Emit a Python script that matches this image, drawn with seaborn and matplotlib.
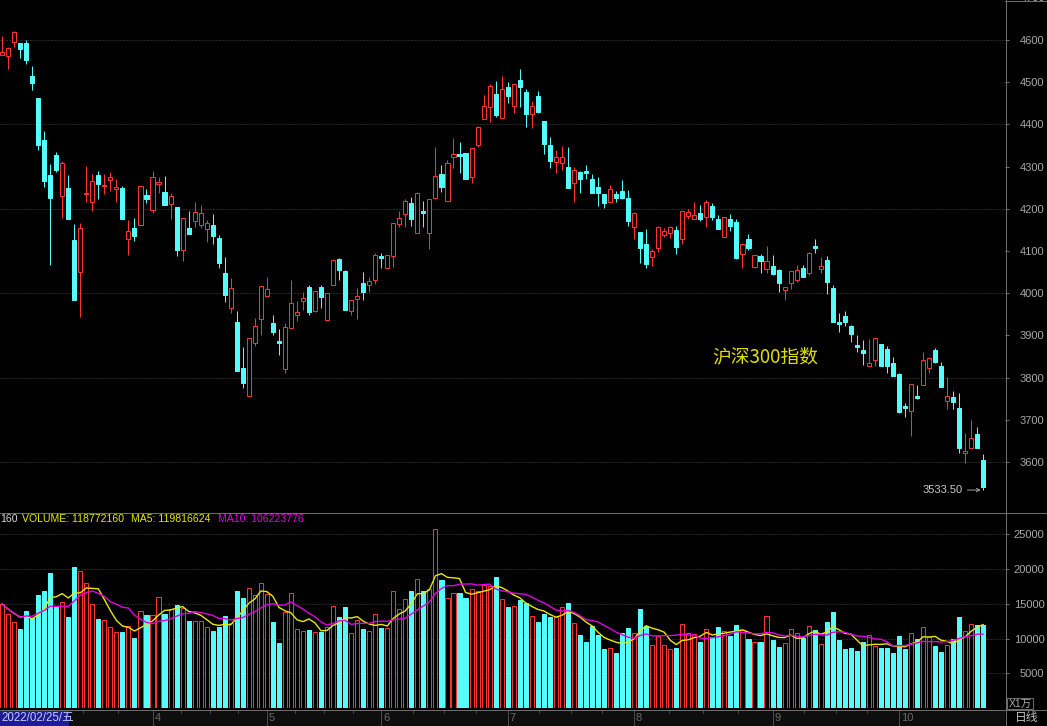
import matplotlib

matplotlib.use('Agg')
import matplotlib.pyplot as plt
import matplotlib.transforms as mtransforms
from matplotlib.lines import Line2D
from matplotlib.patches import Rectangle
import seaborn as sns
import numpy as np
import pandas as pd

# daily K-line of the CSI 300 index, 2022/02/25 .. 2022/10/28
opens = [4564, 4562, 4595, 4593, 4593, 4515, 4463, 4363, 4280, 4327,
         4230, 4249, 4126, 4050, 4235, 4216, 4280, 4254, 4268, 4247,
         4249, 4128, 4154, 4162, 4233, 4197, 4259, 4240, 4211, 4204,
         4102, 4154, 4171, 4162, 4152, 4162, 4131, 4048, 3965, 3932,
         3823, 3756, 3882, 3939, 3993, 3929, 3887, 3820, 3917, 3948,
         3981, 4015, 3958, 4015, 3936, 4019, 4081, 4053, 3958, 3986,
         4024, 4019, 4031, 4088, 4060, 4088, 4164, 4188, 4214, 4143,
         4195, 4143, 4226, 4282, 4218, 4323, 4330, 4332, 4275, 4351,
         4413, 4441, 4472, 4415, 4489, 4444, 4505, 4477, 4425, 4467,
         4408, 4351, 4311, 4308, 4299, 4261, 4287, 4289, 4271, 4252,
         4235, 4216, 4235, 4242, 4226, 4157, 4145, 4117, 4086, 4107,
         4138, 4143, 4150, 4128, 4183, 4176, 4190, 4180, 4207, 4176,
         4133, 4176, 4169, 4093, 4128, 4062, 4088, 4057, 4064, 4055,
         4007, 4024, 4031, 4060, 4048, 4112, 4057, 4079, 4012, 3932,
         3946, 3922, 3877, 3865, 3827, 3842, 3880, 3868, 3834, 3808,
         3733, 3721, 3756, 3782, 3823, 3865, 3827, 3744, 3754, 3728,
         3621, 3633, 3666, 3605]
highs = [4609, 4581, 4621, 4593, 4600, 4538, 4463, 4384, 4306, 4334,
         4313, 4280, 4164, 4166, 4301, 4282, 4289, 4282, 4287, 4271,
         4254, 4173, 4178, 4254, 4247, 4289, 4275, 4278, 4237, 4204,
         4178, 4195, 4216, 4209, 4173, 4188, 4138, 4086, 4036, 3958,
         3872, 3894, 3941, 4017, 4038, 3948, 3915, 3929, 4031, 3981,
         4003, 4019, 4005, 4019, 4000, 4079, 4083, 4055, 3984, 4012,
         4050, 4038, 4095, 4095, 4090, 4166, 4195, 4223, 4228, 4240,
         4218, 4223, 4346, 4304, 4316, 4368, 4358, 4332, 4344, 4396,
         4470, 4496, 4503, 4515, 4500, 4496, 4531, 4484, 4455, 4479,
         4408, 4370, 4339, 4349, 4346, 4299, 4289, 4304, 4282, 4275,
         4235, 4256, 4242, 4268, 4245, 4192, 4145, 4152, 4105, 4159,
         4154, 4159, 4159, 4195, 4199, 4216, 4209, 4221, 4214, 4185,
         4180, 4188, 4176, 4119, 4140, 4090, 4093, 4112, 4090, 4057,
         4015, 4053, 4067, 4067, 4098, 4128, 4086, 4088, 4019, 3953,
         3958, 3924, 3901, 3889, 3891, 3894, 3880, 3875, 3849, 3811,
         3740, 3785, 3782, 3861, 3849, 3870, 3837, 3801, 3768, 3763,
         3668, 3699, 3683, 3619]
lows = [4564, 4531, 4583, 4557, 4543, 4482, 4339, 4252, 4067, 4287,
        4178, 4176, 3984, 3943, 4216, 4195, 4223, 4235, 4242, 4216,
        4176, 4090, 4124, 4162, 4214, 4190, 4237, 4209, 4176, 4088,
        4076, 4140, 4157, 4154, 4121, 4117, 4060, 3979, 3953, 3816,
        3775, 3756, 3875, 3901, 3991, 3901, 3853, 3811, 3917, 3934,
        3960, 3948, 3955, 3965, 3934, 4019, 4031, 3960, 3948, 3939,
        3984, 4003, 4022, 4060, 4057, 4062, 4157, 4157, 4159, 4143,
        4157, 4105, 4226, 4240, 4218, 4297, 4285, 4271, 4261, 4346,
        4413, 4406, 4418, 4415, 4451, 4427, 4441, 4394, 4391, 4427,
        4330, 4297, 4285, 4292, 4249, 4216, 4237, 4271, 4237, 4207,
        4202, 4216, 4216, 4223, 4159, 4128, 4071, 4060, 4064, 4098,
        4133, 4131, 4093, 4117, 4176, 4176, 4171, 4157, 4173, 4152,
        4133, 4147, 4081, 4060, 4102, 4060, 4048, 4048, 4043, 4003,
        3984, 4010, 4026, 4038, 4043, 4095, 4048, 3998, 3932, 3908,
        3922, 3884, 3861, 3830, 3827, 3827, 3827, 3811, 3804, 3716,
        3706, 3661, 3749, 3782, 3811, 3834, 3778, 3725, 3725, 3621,
        3598, 3633, 3633, 3533.5]
closes = [4572, 4581, 4619, 4579, 4553, 4498, 4351, 4266, 4226, 4292,
          4308, 4176, 3984, 4154, 4237, 4266, 4259, 4256, 4275, 4252,
          4176, 4147, 4135, 4254, 4223, 4275, 4263, 4209, 4230, 4102,
          4178, 4140, 4192, 4190, 4166, 4135, 4071, 3996, 4012, 3816,
          3787, 3894, 3922, 4017, 4010, 3908, 3882, 3920, 3977, 3955,
          3988, 3955, 4005, 3991, 4000, 4079, 4055, 3960, 3984, 3993,
          4003, 4029, 4090, 4083, 4090, 4166, 4178, 4218, 4176, 4237,
          4190, 4223, 4278, 4252, 4308, 4330, 4325, 4271, 4344, 4394,
          4444, 4491, 4422, 4484, 4467, 4496, 4489, 4425, 4444, 4429,
          4354, 4313, 4323, 4323, 4249, 4292, 4271, 4285, 4237, 4237,
          4214, 4247, 4226, 4226, 4171, 4190, 4107, 4069, 4100, 4157,
          4147, 4157, 4109, 4195, 4192, 4185, 4176, 4216, 4180, 4152,
          4180, 4159, 4083, 4117, 4107, 4090, 4076, 4076, 4045, 4024,
          4015, 4053, 4055, 4038, 4095, 4107, 4064, 4026, 3932, 3927,
          3932, 3903, 3872, 3858, 3834, 3894, 3827, 3827, 3804, 3718,
          3728, 3785, 3752, 3842, 3846, 3837, 3778, 3756, 3742, 3633,
          3626, 3657, 3633, 3541]
# volume in units of 10^4 shares (X1万)
volumes = [14970, 13530, 12380, 11370, 13960, 12950, 16260, 16840, 19430, 14530,
           15250, 13100, 20290, 19710, 17990, 14970, 12810, 12660, 11660, 10940,
           10940, 11800, 10070, 13960, 13380, 13380, 15970, 13530, 14250, 14820,
           14390, 12520, 12520, 12520, 11660, 11080, 11660, 13240, 12230, 16840,
           15830, 17270, 16260, 17990, 16400, 12380, 9350, 13810, 16550, 11370,
           11080, 11220, 10940, 10940, 11660, 14680, 13100, 14530, 10790, 12660,
           11370, 11080, 13530, 11510, 11510, 16840, 14300, 15690, 16840, 18560,
           16840, 17120, 25760, 18420, 15830, 16550, 16550, 15830, 17120, 16840,
           17700, 17560, 18850, 15690, 14530, 14680, 15540, 15110, 13240, 12380,
           13530, 13100, 13100, 14530, 15110, 12230, 10500, 9500, 11800, 10500,
           8490, 8630, 7910, 10860, 11510, 10790, 14250, 11800, 9070, 10360,
           9070, 8490, 8630, 12090, 10790, 10650, 9500, 11370, 10220, 11660,
           11080, 10360, 11940, 11220, 9930, 9500, 9500, 13240, 9790, 8780,
           9350, 11370, 10790, 10070, 11800, 11220, 9210, 12380, 13810, 9790,
           8490, 8700, 8200, 9500, 10500, 8920, 8630, 8630, 7910, 10360,
           8490, 10790, 9930, 11660, 10220, 8920, 8060, 9070, 9930, 13100,
           11080, 12090, 11940, 11877]

# March start sits under the date box, so it gets no label
month_labels = ['', '4', '5', '6', '7', '8', '9', '10']
month_start = [2, 25, 44, 63, 84, 105, 128, 149]   # candle index of first trading day
price_ticks = [3600, 3700, 3800, 3900, 4000, 4100, 4200, 4300, 4400, 4500, 4600]
price_grid = [3600, 3800, 4000, 4200, 4400, 4600]
vol_ticks = [5000, 10000, 15000, 20000, 25000]
first_date = '2022/02/25/五'
index_name = '沪深300指数'
low_label = '3533.50'
header_parts = [('160', '#d8d8d8', 0), ('VOLUME: 118772160', '#e8e800', 22),
                ('MA5: 119816624', '#e8e800', 131), ('MA10: 106223776', '#e000e0', 218)]

UP = '#FF3232'
DOWN = '#54FCFC'
MA5_C = '#e8e800'
MA10_C = '#e000e0'
AXIS_C = '#6c6c6c'
TEXT_C = '#a8a8a8'
GRID_C = '#4a4a4a'
DATE_C = '#6a6a6a'
PX = 0.72  # one pixel in points at dpi 100

W, H = 1047, 726
STEP = 6.02  # pixels per candle


def fx(px):
    return px / W


def fy(py):
    return 1 - py / H


def main():
    sns.set_style('dark', {'axes.facecolor': 'black', 'figure.facecolor': 'black'})
    plt.rcParams['font.family'] = ['Liberation Sans', 'Noto Sans CJK SC', 'DejaVu Sans']

    df = pd.DataFrame({'open': opens, 'high': highs, 'low': lows,
                       'close': closes, 'volume': volumes})
    df['idx'] = np.arange(len(df))
    df['ma5'] = df['volume'].rolling(5, min_periods=1).mean()
    df['ma10'] = df['volume'].rolling(10, min_periods=1).mean()
    up = (df['close'] >= df['open']).to_numpy()
    col = [UP if u else DOWN for u in up]
    face = ['black' if u else DOWN for u in up]

    fig = plt.figure(figsize=(W / 100, H / 100), dpi=100)
    fig.patch.set_facecolor('black')

    ax_p = fig.add_axes([0, fy(512), fx(1005), 512 / H])
    ax_v = fig.add_axes([0, fy(708), fx(1005), 196 / H])

    n = len(df)
    x_lo = -2 / STEP
    x_hi = x_lo + 1005 / STEP

    # --- price panel ---
    for lv in price_grid:
        ax_p.axhline(lv, color=GRID_C, lw=PX, ls=(0, (1, 2)), zorder=1)
    wicks = ax_p.vlines(df['idx'], df['low'], df['high'], colors=col, lw=PX, zorder=2)
    wicks.set_snap(True)
    body_lo = np.minimum(df['open'], df['close'])
    body_h = np.abs(df['close'] - df['open'])
    ax_p.bar(df['idx'], body_h, bottom=body_lo, width=0.68, color=face,
             edgecolor=col, linewidth=PX, zorder=3, snap=True)
    ax_p.set_xlim(x_lo, x_hi)
    ax_p.set_ylim(3481.5, 4694.8)
    ax_p.set_xticks([])
    ax_p.yaxis.tick_right()
    ax_p.set_yticks(price_ticks)
    ax_p.set_yticklabels([str(t) for t in price_ticks])
    ax_p.tick_params(axis='y', colors=AXIS_C, labelcolor=TEXT_C, length=3,
                     width=PX, pad=25.5, labelsize=8)
    for lab in ax_p.get_yticklabels():
        lab.set_ha('right')
    # top label is half outside the picture, as in the terminal screenshot
    ax_p.text(1 + 40 / 1005, 4700, '4700', transform=mtransforms.blended_transform_factory(
        ax_p.transAxes, ax_p.transData), ha='right', va='center', fontsize=8,
        color=TEXT_C, clip_on=False)
    for sp in ax_p.spines.values():
        sp.set_visible(False)
    ax_p.grid(False)

    last = n - 1
    ax_p.annotate(low_label, xy=(last - 0.4, df['low'].iloc[-1]),
                  xytext=(-18, 0), textcoords='offset pixels', ha='right', va='center',
                  fontsize=8, color='#c8c8c8',
                  arrowprops=dict(arrowstyle='->', color='#a0a0a0', lw=PX,
                                  shrinkA=1, shrinkB=0, mutation_scale=6))
    fig.text(fx(712), fy(357), index_name, color='#e0e000', fontsize=13.5,
             ha='left', va='center', family=['Noto Sans CJK SC', 'DejaVu Sans'])

    # --- volume panel ---
    for lv in vol_ticks:
        ax_v.axhline(lv, color=GRID_C, lw=PX, ls=(0, (1, 2)), zorder=1)
    ax_v.bar(df['idx'], df['volume'], width=0.68, color=face, edgecolor=col,
             linewidth=PX, zorder=2, snap=True)
    sns.lineplot(data=df, x='idx', y='ma5', ax=ax_v, color=MA5_C, lw=1.0,
                 legend=False, zorder=4)
    sns.lineplot(data=df, x='idx', y='ma10', ax=ax_v, color=MA10_C, lw=1.0,
                 legend=False, zorder=4)
    ax_v.set_xlabel('')
    ax_v.set_ylabel('')
    ax_v.set_xlim(x_lo, x_hi)
    ax_v.set_ylim(0, 196 * 143.9)
    ax_v.set_xticks([])
    ax_v.yaxis.tick_right()
    ax_v.set_yticks(vol_ticks)
    ax_v.set_yticklabels([str(t) for t in vol_ticks])
    ax_v.tick_params(axis='y', colors=AXIS_C, labelcolor=TEXT_C, length=3,
                     width=PX, pad=25.5, labelsize=8)
    for lab in ax_v.get_yticklabels():
        lab.set_ha('right')
    for sp in ax_v.spines.values():
        sp.set_visible(False)
    ax_v.grid(False)

    for txt, c, px in header_parts:
        fig.text(fx(px), fy(519), txt, color=c, fontsize=7.6, ha='left', va='center')

    # --- date strip ---
    fig.add_artist(Rectangle((0, 0), fx(1005), 16 / H, transform=fig.transFigure,
                             facecolor='#0e0e0e', edgecolor='none', zorder=0))
    trans = mtransforms.blended_transform_factory(ax_v.transData, fig.transFigure)
    for k, (idx, lab) in enumerate(zip(month_start, month_labels)):
        fig.add_artist(Line2D([idx, idx], [fy(710), fy(726)], transform=trans,
                              color='#4a4a4a', lw=PX))
        if lab:
            fig.text(idx + 0.3, fy(718), lab, transform=trans, color=DATE_C,
                     fontsize=8, ha='left', va='center')
        if k + 1 < len(month_start):
            nxt = month_start[k + 1]
            for q in (0.25, 0.5, 0.75):
                xq = idx + q * (nxt - idx)
                fig.add_artist(Line2D([xq, xq], [fy(710), fy(712.5)], transform=trans,
                                      color='#4a4a4a', lw=PX))
    fig.add_artist(Rectangle((0, fy(726)), fx(69), 15 / H, transform=fig.transFigure,
                             facecolor='#1c1c94', edgecolor='none', zorder=5))
    fig.text(fx(1), fy(718), first_date, color='#c8c8ff', fontsize=8.3,
             ha='left', va='center', zorder=6)

    # --- frame lines ---
    for line in [([0, 1], [fy(512.5)] * 2), ([0, 1], [fy(709.5)] * 2),
                 ([fx(1005.5)] * 2, [0, 1]), ([fx(1005), 1], [fy(0.5)] * 2)]:
        fig.add_artist(Line2D(line[0], line[1], color=AXIS_C, lw=PX))

    fig.add_artist(Rectangle((fx(1007), fy(709)), fx(26), 11 / H,
                             transform=fig.transFigure, facecolor='none',
                             edgecolor=AXIS_C, lw=PX))
    fig.text(fx(1020), fy(703.5), 'X1万', color=TEXT_C, fontsize=7.5,
             ha='center', va='center')
    fig.text(fx(1027), fy(718), '日线', color='#c0c0c0', fontsize=8.5,
             ha='center', va='center')

    fig.savefig('out.png', dpi=100, facecolor='black')
    plt.close(fig)


if __name__ == '__main__':
    main()
